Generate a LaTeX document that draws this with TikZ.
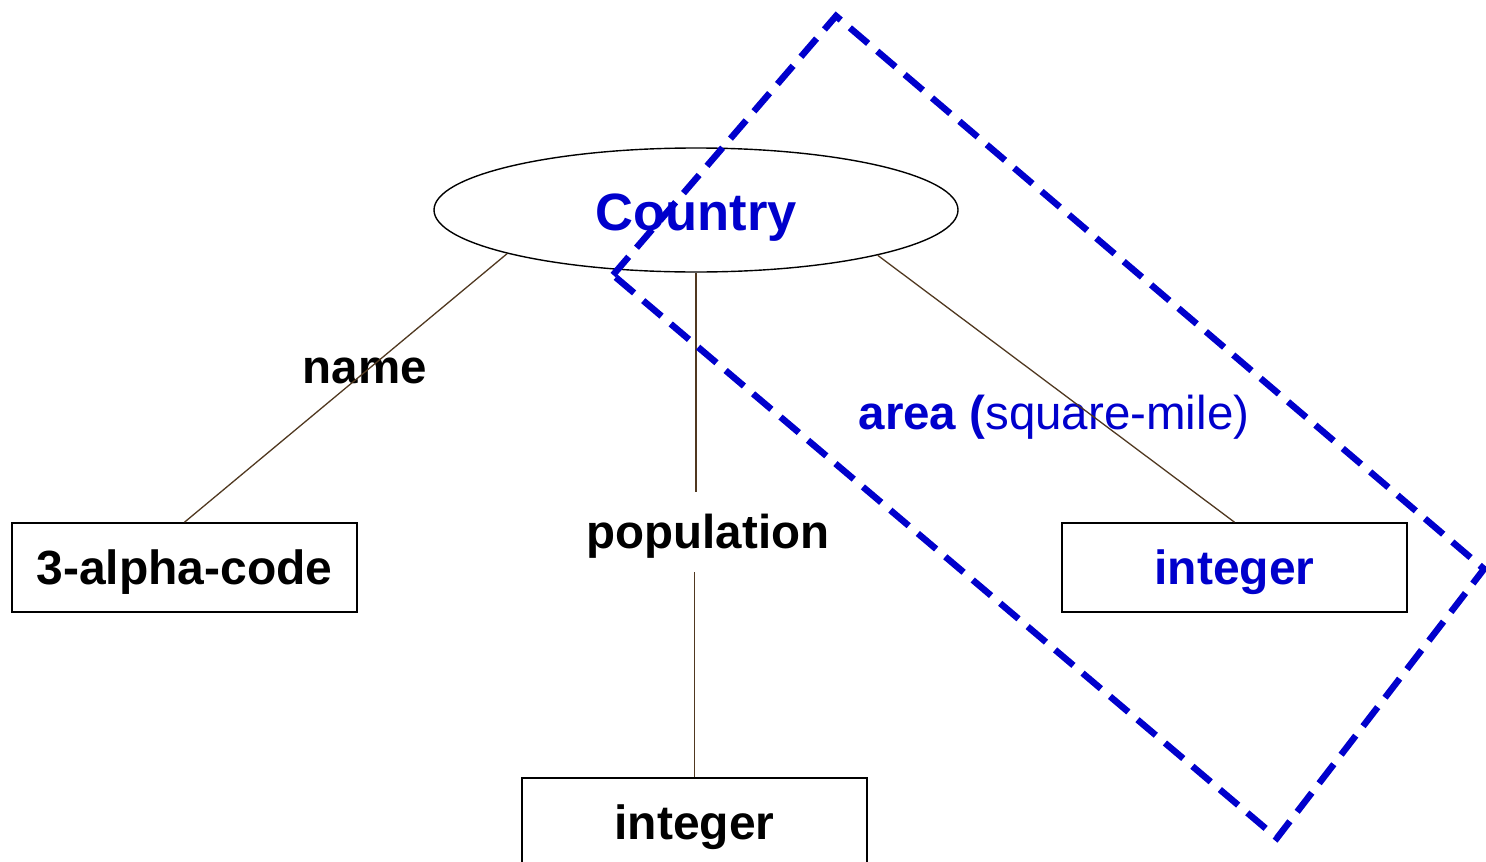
\documentclass[tikz,border=0pt]{standalone}
\usepackage{fontspec}
\setmainfont{Liberation Sans}
\usetikzlibrary{shapes.geometric}
\definecolor{erblue}{RGB}{0,0,204}
\definecolor{edgebrown}{RGB}{80,56,32}
\begin{document}
\begin{tikzpicture}[x=1pt,y=-1pt,
  attrbox/.style={draw, line width=1.6pt, minimum width=345pt, minimum height=89pt, inner sep=0pt,
    font=\fontsize{48}{52}\selectfont\bfseries, text height=38pt, text depth=3.5pt},
  attrlbl/.style={font=\fontsize{47.5}{50}\selectfont\bfseries, anchor=base},
  edge/.style={draw=edgebrown, line width=1.3pt}]
\useasboundingbox (0,0) rectangle (1486,862);
\node[ellipse, draw, line width=1.4pt, minimum width=524pt, minimum height=124pt, inner sep=0pt,
  font=\fontsize{52.5}{56}\selectfont\bfseries, text=erblue, text height=44.2pt, text depth=4.2pt] (country) at (696,210) {Country};
\node[attrbox] (code) at (184.5,567.5) {3-alpha-code};
\node[attrbox] (popint) at (694.5,822.5) {integer};
\node[attrbox, text=erblue] (areaint) at (1234.5,567.5) {integer};
\node[attrlbl] (namelbl) at (365,383) {name};
\node[attrlbl, inner sep=10pt, text height=46pt, text depth=14pt] (poplbl) at (708,548) {population};
\node[attrlbl, text=erblue] (arealbl) at (1054,429) {area (\textmd{square-mile)}};
\draw[edge] (country.193.6) -- (code.north);
\draw[edge] (country.south) -- (country.south |- poplbl.north);
\draw[edge] (poplbl.south -| popint.north) -- (popint.north);
\draw[edge] (country.346.4) -- (areaint.north);
% highlighted attribute
\draw[erblue, line width=6.5pt, dash pattern=on 24pt off 12pt]
  (613,275) -- (836,16) -- (1484,569) -- (1277,838) -- cycle;
\end{tikzpicture}
\end{document}
